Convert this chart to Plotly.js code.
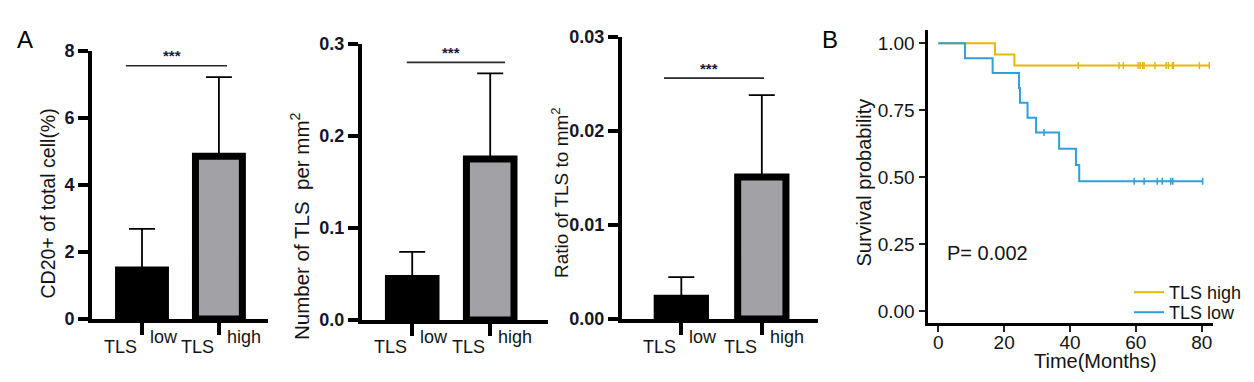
<!DOCTYPE html>
<html>
<head>
<meta charset="utf-8">
<script src="https://cdn.plot.ly/plotly-3.0.1.min.js"></script>
<style>html,body{margin:0;padding:0;background:#fff;}#chart{width:1254px;height:382px;}</style>
</head>
<body>
<div id="chart"></div>
<script>
// ---------------- DATA ----------------
const groups = ["TLS low", "TLS high"];
const groupMain = ["TLS", "TLS"];
const groupSup = ["low", "high"];

const cd20Mean = [1.46, 4.85];
const cd20Err = [1.23, 2.36];

const tlsDensityMean = [0.045, 0.175];
const tlsDensityErr = [0.029, 0.093];

const tlsRatioMean = [0.0022, 0.0151];
const tlsRatioErr = [0.00225, 0.0087];

const sigText = ["***", "***", "***"];
const sigY = [7.55, 0.28, 0.0256];
const sigX0 = [-0.21, -0.07, -0.215];
const sigX1 = [1.105, 1.19, 1.028];

const barTitles = ["CD20+ of total cell(%)", "Number of TLS  per mm<sup>2</sup>", "Ratio of TLS to mm<sup>2</sup>"];

const kmHighTime = [0, 17.2, 23.1, 82.3];
const kmHighSurv = [1, 0.958, 0.917, 0.917];
const kmHighCensor = [42.5, 54.9, 56.2, 60.7, 61.3, 62.1, 62.5, 65.8, 69.2, 69.9, 71.1, 71.4, 79.3, 82.3];

const kmLowTime = [0, 8.1, 16.5, 24.5, 24.8, 27.1, 29.7, 36.7, 41.8, 42.8, 80.3];
const kmLowSurv = [1, 0.944, 0.889, 0.833, 0.778, 0.722, 0.667, 0.606, 0.545, 0.485, 0.485];
const kmLowCensor = [32.1, 59.5, 62.5, 66.5, 68.0, 70.6, 71.2, 80.3];

const kmNames = ["TLS high", "TLS low"];
const pValueText = "P= 0.002";

// ---------------- STYLE / LAYOUT ----------------
const W = 1254, H = 382;
const FONT = "Liberation Sans, Arial, sans-serif";
const TXT = "#141414";
const px = p => p / W;
const py = p => 1 - p / H;
const barFill = ["#000000", "#a2a1a6"];
const kmColors = ["#E7B800", "#2E9FDF"];

// panel frames (pixels) and category x ranges
const panels = [
  {L: 92, R: 268, B: 319, T: 50.7, xr: [-0.650, 1.638], yr: [0, 8], dt: 2, fmt: "d", bw: 0.61, titleX: 47.5, titleY: 204, titleSize: 19.5},
  {L: 362, R: 548, B: 320, T: 44, xr: [-0.644, 1.741], yr: [0, 0.3], dt: 0.1, fmt: ".1f", bw: 0.61, titleX: 300, titleY: 226, titleSize: 20.5},
  {L: 622, R: 818, B: 319, T: 36.7, xr: [-0.737, 1.698], yr: [0, 0.03], dt: 0.01, fmt: ".2f", bw: 0.6, titleX: 560, titleY: 193, titleSize: 19}
];
const means = [cd20Mean, tlsDensityMean, tlsRatioMean];
const errs = [cd20Err, tlsDensityErr, tlsRatioErr];

const traces = [];
const layout = {
  width: W, height: H,
  margin: {l: 0, r: 0, t: 0, b: 0},
  paper_bgcolor: "#fff", plot_bgcolor: "rgba(0,0,0,0)",
  font: {family: FONT, color: TXT, size: 18},
  showlegend: true,
  bargap: 0,
  annotations: [],
  shapes: []
};

panels.forEach((p, i) => {
  const n = i + 1;
  const xa = "x" + (n === 1 ? "" : n), ya = "y" + (n === 1 ? "" : n);
  traces.push({
    type: "bar", x: groups, y: means[i], xaxis: xa, yaxis: ya,
    width: p.bw,
    marker: {color: barFill, line: {color: "#000", width: 7}},
    error_y: {type: "data", symmetric: false, array: errs[i], arrayminus: [0, 0], color: "#000", thickness: 1.8, width: 13},
    showlegend: false, hoverinfo: "skip"
  });
  layout["xaxis" + (n === 1 ? "" : n)] = {
    domain: [px(p.L), px(p.R)], anchor: ya, type: "category",
    range: p.xr, showline: true, linewidth: 4, linecolor: "#000",
    ticks: "outside", ticklen: 12, tickwidth: 4, tickcolor: "#000",
    showticklabels: false, showgrid: false, zeroline: false, fixedrange: true
  };
  layout["yaxis" + (n === 1 ? "" : n)] = {
    domain: [py(p.B), py(p.T)], anchor: xa,
    range: p.yr, dtick: p.dt, tick0: 0, tickformat: p.fmt,
    showline: true, linewidth: 4, linecolor: "#000",
    ticks: "outside", ticklen: 10, tickwidth: 4, tickcolor: "#000",
    tickfont: {size: 18, color: "#16162a", family: FONT, weight: "bold"},
    showgrid: false, zeroline: false, fixedrange: true
  };
  // category labels: "TLS" + raised suffix
  groups.forEach((g, k) => {
    layout.annotations.push({xref: xa, yref: "paper", x: g, y: py(346.5), xanchor: "right", yanchor: "middle",
      xshift: -3, text: groupMain[k], showarrow: false, font: {size: 18, color: TXT, family: FONT}});
    layout.annotations.push({xref: xa, yref: "paper", x: g, y: py(337), xanchor: "left", yanchor: "middle",
      xshift: 6, text: groupSup[k], showarrow: false, font: {size: 18, color: TXT, family: FONT}});
  });
  // significance bracket
  layout.shapes.push({type: "line", xref: xa, yref: ya, x0: sigX0[i], x1: sigX1[i], y0: sigY[i], y1: sigY[i],
    line: {color: "#2a2a2a", width: 1.6}});
  layout.annotations.push({xref: xa, yref: ya, x: (sigX0[i] + sigX1[i]) / 2 - 0.06, y: sigY[i], yshift: 10,
    xanchor: "center", yanchor: "middle", text: sigText[i], showarrow: false,
    font: {size: 15, color: "#1a1a3a", family: FONT, weight: "bold"}});
  // y title
  layout.annotations.push({xref: "paper", yref: "paper", x: px(p.titleX), y: py(p.titleY), xanchor: "center", yanchor: "middle",
    textangle: -90, text: barTitles[i], showarrow: false, font: {size: p.titleSize, color: TXT, family: FONT}});
});

// ---------------- KM panel ----------------
function survAt(times, surv, t) {
  let s = surv[0];
  for (let k = 0; k < times.length; k++) { if (times[k] <= t) s = surv[k]; }
  return s;
}
const kmSets = [[kmHighTime, kmHighSurv, kmHighCensor], [kmLowTime, kmLowSurv, kmLowCensor]];
kmSets.forEach((s, i) => {
  traces.push({
    type: "scatter", mode: "lines", x: s[0], y: s[1], xaxis: "x4", yaxis: "y4",
    line: {shape: "hv", color: kmColors[i], width: 2}, name: kmNames[i],
    legend: i === 0 ? "legend" : "legend2", hoverinfo: "skip"
  });
  traces.push({
    type: "scatter", mode: "markers", x: s[2], y: s[2].map(t => survAt(s[0], s[1], t)), xaxis: "x4", yaxis: "y4",
    marker: {symbol: "line-ns-open", size: 5, line: {color: kmColors[i], width: 1.5}, color: kmColors[i]},
    showlegend: false, hoverinfo: "skip"
  });
});
const K = {L: 927.5, R: 1213, B: 322.5, T: 30};
layout.xaxis4 = {
  domain: [px(K.L), px(K.R)], anchor: "y4", range: [-3.28, 83.43], dtick: 20, tick0: 0,
  showline: true, linewidth: 3, linecolor: "#000", ticks: "outside", ticklen: 6, tickwidth: 2, tickcolor: "#222",
  ticklabelstandoff: -5,
  tickfont: {size: 19, color: TXT, family: FONT}, showgrid: false, zeroline: false, fixedrange: true
};
layout.yaxis4 = {
  domain: [py(K.B), py(K.T)], anchor: "x4", range: [-0.043, 1.0497], dtick: 0.25, tick0: 0, tickformat: ".2f",
  showline: true, linewidth: 3, linecolor: "#000", ticks: "outside", ticklen: 6, tickwidth: 2, tickcolor: "#222",
  tickfont: {size: 19, color: TXT, family: FONT}, showgrid: false, zeroline: false, fixedrange: true
};
const legBase = {xanchor: "left", yanchor: "middle", bgcolor: "rgba(0,0,0,0)", borderwidth: 0,
  font: {size: 18, color: TXT, family: FONT}, itemwidth: 30, tracegroupgap: 0};
layout.legend = Object.assign({}, legBase, {x: px(1129), y: py(292.5)});
layout.legend2 = Object.assign({}, legBase, {x: px(1129), y: py(312.5)});

layout.annotations.push({xref: "paper", yref: "paper", x: px(945), y: py(253), xanchor: "left", yanchor: "middle",
  text: pValueText, showarrow: false, font: {size: 20, color: TXT, family: FONT}});
layout.annotations.push({xref: "paper", yref: "paper", x: px(864), y: py(182.5), xanchor: "center", yanchor: "middle",
  textangle: -90, text: "Survival probability", showarrow: false, font: {size: 20, color: TXT, family: FONT}});
layout.annotations.push({xref: "paper", yref: "paper", x: px(1095), y: py(361), xanchor: "center", yanchor: "middle",
  text: "Time(Months)", showarrow: false, font: {size: 20, color: TXT, family: FONT}});

// panel letters
layout.annotations.push({xref: "paper", yref: "paper", x: px(25.5), y: py(39), xanchor: "center", yanchor: "middle",
  text: "A", showarrow: false, font: {size: 24, color: "#000", family: FONT}});
layout.annotations.push({xref: "paper", yref: "paper", x: px(830.5), y: py(39), xanchor: "center", yanchor: "middle",
  text: "B", showarrow: false, font: {size: 24, color: "#000", family: FONT}});

Plotly.newPlot("chart", traces, layout, {staticPlot: true, displayModeBar: false});
</script>
</body>
</html>
